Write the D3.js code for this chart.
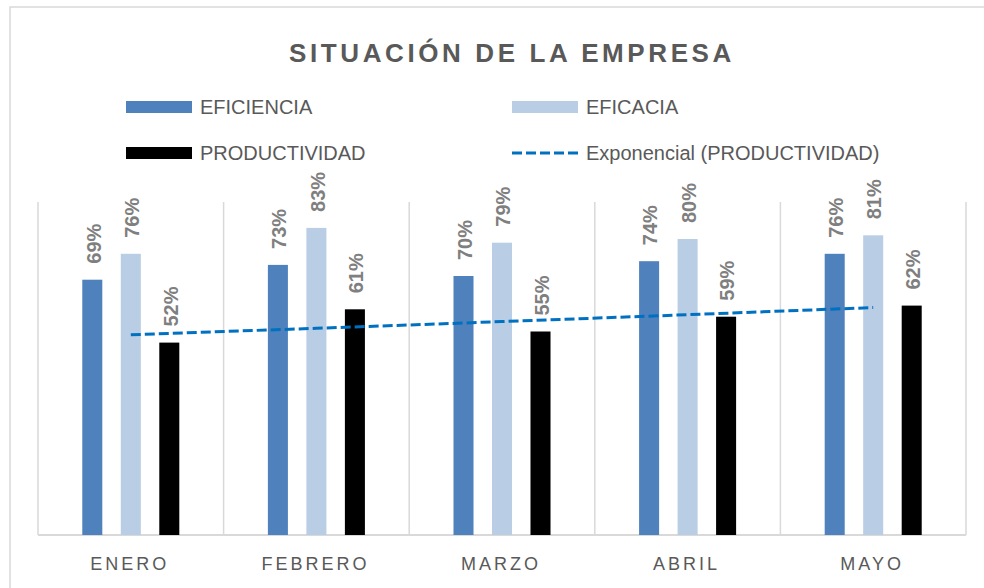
<!DOCTYPE html>
<meta charset="utf-8">
<style>

body {
  margin: 0;
  background: #fff;
  font-family: "Liberation Sans", Arial, sans-serif;
}

.title {
  font: bold 26px "Liberation Sans", Arial, sans-serif;
  fill: #595959;
  letter-spacing: 3.6px;
  text-anchor: middle;
}

.legend text {
  font: 20px "Liberation Sans", Arial, sans-serif;
  fill: #595959;
}

.label {
  font: bold 20px "Liberation Sans", Arial, sans-serif;
  fill: #7f7f7f;
}

.month {
  font: 18px "Liberation Sans", Arial, sans-serif;
  fill: #595959;
  letter-spacing: 3px;
  text-anchor: middle;
}

.grid line {
  stroke: #d9d9d9;
  stroke-width: 1.5px;
}

</style>

<svg width="984" height="588"></svg>
<script src="https://d3js.org/d3.v7.min.js"></script>
<script>

// data
var months = ["ENERO", "FEBRERO", "MARZO", "ABRIL", "MAYO"];
var seriesNames = ["EFICIENCIA", "EFICACIA", "PRODUCTIVIDAD"];
var eficiencia = [0.69, 0.73, 0.70, 0.74, 0.76];
var eficacia = [0.76, 0.83, 0.79, 0.80, 0.81];
var productividad = [0.52, 0.61, 0.55, 0.59, 0.62];
var colors = ["#4f81bd", "#b9cde5", "#000000"];
var trendName = "Exponencial (PRODUCTIVIDAD)";

var values = [eficiencia, eficacia, productividad];

var svg = d3.select("svg");

// outer chart frame (runs off the right / bottom edge)
svg.append("rect")
    .attr("x", 10).attr("y", 7)
    .attr("width", 1000).attr("height", 600)
    .attr("fill", "#fff")
    .attr("stroke", "#d9d9d9")
    .attr("stroke-width", 1.5);

var plot = {left: 38, right: 966, top: 202, bottom: 535};

var x = d3.scaleBand()
    .domain(months)
    .range([plot.left, plot.right]);

// bars: 20px wide, 38.5px apart, centred in each month
var groupW = 115.5;
var x1 = d3.scaleBand()
    .domain(seriesNames)
    .range([(x.bandwidth() - groupW) / 2, (x.bandwidth() + groupW) / 2])
    .paddingInner(0.48)
    .paddingOuter(0.24);

var y = d3.scaleLinear()
    .domain([0, 0.9])
    .range([plot.bottom, plot.top]);

// vertical gridlines on the category boundaries
var bounds = months.map(function(m) { return x(m); }).concat([plot.right]);
svg.append("g").attr("class", "grid")
  .selectAll("line")
  .data(bounds)
  .enter().append("line")
    .attr("x1", function(d) { return d; })
    .attr("x2", function(d) { return d; })
    .attr("y1", y(0.9))
    .attr("y2", y(0));

svg.append("line")
    .attr("x1", plot.left).attr("x2", plot.right)
    .attr("y1", y(0)).attr("y2", y(0))
    .attr("stroke", "#d9d9d9")
    .attr("stroke-width", 2);

// title
svg.append("text")
    .attr("class", "title")
    .attr("x", 512)
    .attr("y", 62)
    .text("SITUACIÓN DE LA EMPRESA");

// legend
var legendItems = [
  {name: seriesNames[0], color: colors[0], x: 126, y: 107},
  {name: seriesNames[1], color: colors[1], x: 512, y: 107},
  {name: seriesNames[2], color: colors[2], x: 126, y: 153},
  {name: trendName, color: "#0070c0", x: 512, y: 153, dash: true}
];

var legend = svg.append("g").attr("class", "legend")
  .selectAll("g")
  .data(legendItems)
  .enter().append("g")
    .attr("transform", function(d) { return "translate(" + d.x + "," + d.y + ")"; });

legend.filter(function(d) { return !d.dash; })
  .append("rect")
    .attr("x", 0).attr("y", -6)
    .attr("width", 66).attr("height", 12)
    .attr("fill", function(d) { return d.color; });

legend.filter(function(d) { return d.dash; })
  .append("line")
    .attr("x1", 0).attr("x2", 66)
    .attr("stroke", function(d) { return d.color; })
    .attr("stroke-width", 3)
    .attr("stroke-dasharray", "10,4");

legend.append("text")
    .attr("x", 74)
    .attr("dy", "0.36em")
    .text(function(d) { return d.name; });

// bars
var rows = months.map(function(m, i) {
  return seriesNames.map(function(s, j) {
    return {month: m, series: s, value: values[j][i], color: colors[j]};
  });
});

var groups = svg.append("g")
  .selectAll("g")
  .data(rows)
  .enter().append("g")
    .attr("transform", function(d) { return "translate(" + x(d[0].month) + ",0)"; });

groups.selectAll("rect")
  .data(function(d) { return d; })
  .enter().append("rect")
    .attr("x", function(d) { return x1(d.series); })
    .attr("y", function(d) { return y(d.value); })
    .attr("width", x1.bandwidth())
    .attr("height", function(d) { return y(0) - y(d.value); })
    .attr("fill", function(d) { return d.color; });

groups.selectAll("text")
  .data(function(d) { return d; })
  .enter().append("text")
    .attr("class", "label")
    .attr("dy", "0.36em")
    .attr("transform", function(d) {
      return "translate(" + (x1(d.series) + x1.bandwidth() / 2 + 1) + "," + (y(d.value) - 16) + ") rotate(-90)";
    })
    .text(function(d) { return Math.round(d.value * 100) + "%"; });

// exponential trendline of productividad (least squares on ln y)
var n = productividad.length;
var xs = d3.range(1, n + 1);
var lys = productividad.map(Math.log);
var mx = d3.mean(xs), my = d3.mean(lys);
var b = d3.sum(xs, function(v, i) { return (v - mx) * (lys[i] - my); }) /
        d3.sum(xs, function(v) { return (v - mx) * (v - mx); });
var a = my - b * mx;

var trend = months.map(function(m, i) {
  return {month: m, value: Math.exp(a + b * xs[i])};
});

svg.append("path")
    .datum(trend)
    .attr("fill", "none")
    .attr("stroke", "#0070c0")
    .attr("stroke-width", 3)
    .attr("stroke-dasharray", "10,4")
    .attr("d", d3.line()
      .x(function(d) { return x(d.month) + x.bandwidth() / 2; })
      .y(function(d) { return y(d.value); }));

// month labels
svg.append("g")
  .selectAll("text")
  .data(months)
  .enter().append("text")
    .attr("class", "month")
    .attr("x", function(d) { return x(d) + x.bandwidth() / 2 - 1; })
    .attr("y", 570)
    .text(function(d) { return d; });

</script>
